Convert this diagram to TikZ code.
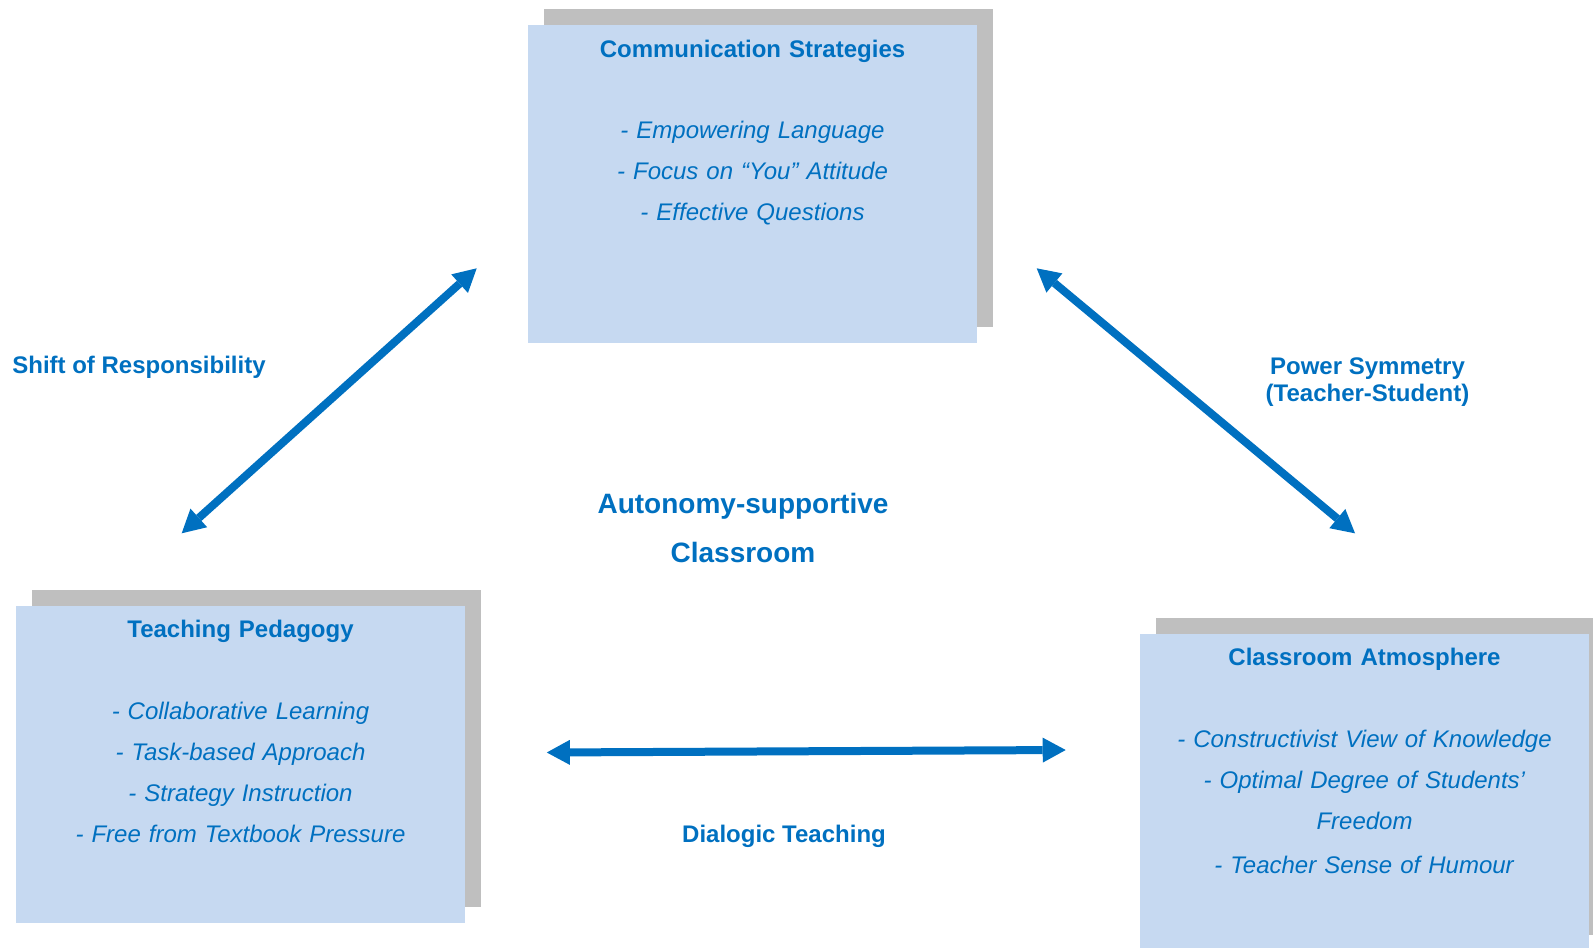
\documentclass[tikz,border=0pt]{standalone}
\usepackage{fontspec}
\setmainfont{Liberation Sans}
\usepackage{tikz}
\usetikzlibrary{arrows.meta,positioning,shadows}
\definecolor{textblue}{HTML}{0070C0}
\definecolor{boxblue}{HTML}{C6D9F1}
\definecolor{shadowgrey}{HTML}{BFBFBF}
\tikzset{>={Triangle[length=11.5pt,width=12.5pt,line width=0pt,fill=textblue,color=textblue]}}

\begin{document}
\begin{tikzpicture}[x=0.5pt, y=-0.5pt,
	panel/.style={fill=boxblue, inner sep=0pt, minimum width=224.5pt, minimum height=158.5pt, drop shadow={shadow xshift=8pt, shadow yshift=8pt, fill=shadowgrey, opacity=1}},
	paneltext/.style={text=textblue, text width=224pt, align=center, inner sep=0pt, font=\fontsize{12}{20.6}\selectfont},
	linklabel/.style={text=textblue, align=center, inner sep=0pt, font=\bfseries\fontsize{12}{13.8}\selectfont},
	link/.style={<->, line width=4pt, color=textblue}]
		\useasboundingbox (0,0) rectangle (1593,947);
		% the three panels
		\node[panel] (comm) at (752.5,184) {};
		\node[panel] (pedag) at (240.5,764.5) {};
		\node[panel] (atmos) at (1364.5,792.5) {};
		\node[paneltext, below=7.1pt of comm.north] (commtext) {\textbf{Communication Strategies}\\[20.15pt]
			\textit{- Empowering Language}\\ \textit{- Focus on “You” Attitude}\\ \textit{- Effective Questions}};
		\node[paneltext, below=7.1pt of pedag.north] (pedagtext) {\textbf{Teaching Pedagogy}\\[20.15pt]
			\textit{- Collaborative Learning}\\ \textit{- Task-based Approach}\\ \textit{- Strategy Instruction}\\ \textit{- Free from Textbook Pressure}};
		\node[paneltext, below=7.1pt of atmos.north] (atmostext) {\textbf{Classroom Atmosphere}\\[20.15pt]
			\textit{- Constructivist View of Knowledge}\\ \textit{- Optimal Degree of Students’}\\ \textit{Freedom}\\[1.6pt] \textit{- Teacher Sense of Humour}};
		% centre and arrow labels
		\node[linklabel, anchor=north, font=\bfseries\fontsize{14}{24.2}\selectfont] (centrelbl) at (743,493) {Autonomy-supportive\\Classroom};
		\node[linklabel, anchor=base] (shiftlbl) at (139,373.3) {Shift of Responsibility};
		\node[linklabel, anchor=north] (powerlbl) at (1367.5,357) {Power Symmetry\\(Teacher-Student)};
		\node[linklabel, anchor=base] (dialoglbl) at (784,842.7) {Dialogic Teaching};
		% arrow ends
		\coordinate (shiftlo) at (181.7,533.3);
		\coordinate (shifthi) at (476.7,268.3);
		\coordinate (powerhi) at (1036.7,268.3);
		\coordinate (powerlo) at (1355,533.3);
		\coordinate (dialogl) at (546.8,752.5);
		\coordinate (dialogr) at (1065.7,750);
		\path[link]
			(shiftlo) edge (shifthi)
			(powerhi) edge (powerlo)
			(dialogl) edge (dialogr);
\end{tikzpicture}
\end{document}
